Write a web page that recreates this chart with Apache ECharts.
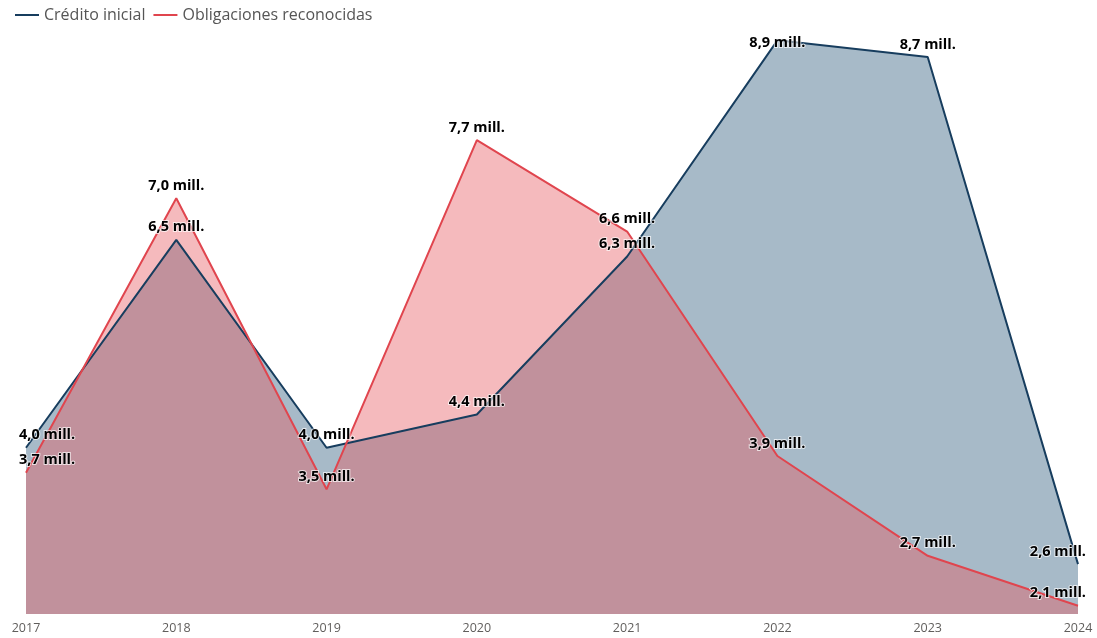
<!DOCTYPE html>
<html><head><meta charset="utf-8">
<script src="https://cdn.jsdelivr.net/npm/echarts@6/dist/echarts.min.js"></script>
<style>html,body{margin:0;padding:0;background:#fff}#c{width:1097px;height:638px}</style>
</head><body><div id="c"></div>
<script>
const years = ['2017','2018','2019','2020','2021','2022','2023','2024'];
const creditoInicial = [4.0, 6.5, 4.0, 4.4, 6.3, 8.9, 8.7, 2.6];
const obligaciones = [3.7, 7.0, 3.5, 7.7, 6.6, 3.9, 2.7, 2.1];
const seriesNames = ['Crédito inicial', 'Obligaciones reconocidas'];

const fmt = v => v.toFixed(1).replace('.', ',') + ' mill.';
const baseLabel = {
  show: true, position: 'top', distance: 5,
  color: '#000', fontWeight: 'bold', fontSize: 14.5, fontFamily: 'Open Sans',
  textBorderColor: 'rgba(255,255,255,0.7)', textBorderWidth: 2,
  formatter: p => fmt(p.value)
};
function build(vals, special) {
  return vals.map((v, i) => {
    const item = { value: v };
    if (i === 0) item.label = { align: 'left', offset: [-7, 0] };
    else if (i === vals.length - 1) item.label = { align: 'right', offset: [8, 0] };
    if (special && special[i]) item.label = Object.assign(item.label || {}, special[i]);
    return item;
  });
}
const chart = echarts.init(document.getElementById('c'));
chart.setOption({
  animation: false,
  legend: {
    left: 10, top: 2, itemWidth: 24, itemHeight: 2, itemGap: 8,
    icon: 'rect',
    textStyle: { fontSize: 16, color: '#555', fontFamily: 'Open Sans' },
    data: seriesNames
  },
  grid: { left: 26, right: 19, top: 32, bottom: 24, containLabel: false },
  xAxis: {
    type: 'category', data: years, boundaryGap: false,
    axisLine: { show: false }, axisTick: { show: false },
    axisLabel: { color: '#605E5C', fontSize: 12.5, fontFamily: 'Open Sans', margin: 8 }
  },
  yAxis: { type: 'value', min: 2, max: 9, show: false, splitLine: { show: false } },
  series: [
    {
      name: seriesNames[0], type: 'line', data: build(creditoInicial, { 5: { position: 'inside', offset: [0, 3] } }),
      symbol: 'circle', symbolSize: 0.01, showSymbol: true,
      lineStyle: { color: '#173D5E', width: 2 }, itemStyle: { color: '#173D5E' },
      areaStyle: { color: 'rgb(34,82,118)', opacity: 0.4 },
      label: baseLabel
    },
    {
      name: seriesNames[1], type: 'line', data: build(obligaciones),
      symbol: 'circle', symbolSize: 0.01, showSymbol: true,
      lineStyle: { color: '#E0454E', width: 2 }, itemStyle: { color: '#E0454E' },
      areaStyle: { color: 'rgb(230,87,94)', opacity: 0.41 },
      label: baseLabel
    }
  ]
});
</script></body></html>
